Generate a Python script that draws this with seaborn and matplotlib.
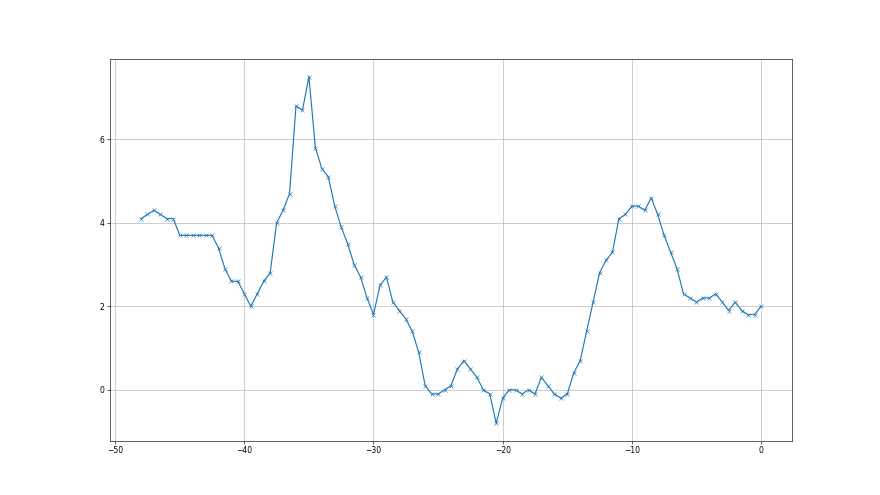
import matplotlib
matplotlib.use("Agg")
import matplotlib.pyplot as plt
import numpy as np
import pandas as pd
import seaborn as sns

# === data ===
x_vals = np.arange(-48, 0.5, 0.5)
y_vals = [
    4.1, 4.2, 4.3, 4.2, 4.1, 4.1, 3.7, 3.7, 3.7, 3.7, 3.7, 3.7,
    3.4, 2.9, 2.6, 2.6, 2.3, 2.0, 2.3, 2.6, 2.8, 4.0, 4.3, 4.7,
    6.8, 6.7, 7.5, 5.8, 5.3, 5.1, 4.4, 3.9, 3.5, 3.0, 2.7, 2.2,
    1.8, 2.5, 2.7, 2.1, 1.9, 1.7, 1.4, 0.9, 0.1, -0.1, -0.1, 0.0,
    0.1, 0.5, 0.7, 0.5, 0.3, 0.0, -0.1, -0.8, -0.2, 0.0, 0.0, -0.1,
    0.0, -0.1, 0.3, 0.1, -0.1, -0.2, -0.1, 0.4, 0.7, 1.4, 2.1, 2.8,
    3.1, 3.3, 4.1, 4.2, 4.4, 4.4, 4.3, 4.6, 4.2, 3.7, 3.3, 2.9,
    2.3, 2.2, 2.1, 2.2, 2.2, 2.3, 2.1, 1.9, 2.1, 1.9, 1.8, 1.8,
    2.0,
]

df = pd.DataFrame({"x": x_vals, "y": y_vals})

# === plot ===
sns.set_style("ticks")
fig, ax = plt.subplots(figsize=(16, 9), dpi=55)

sns.lineplot(data=df, x="x", y="y", marker="x", color="tab:blue",
             markeredgecolor="tab:blue", linewidth=1.5, ax=ax)

ax.grid(True, color="#b0b0b0", linewidth=0.8)
ax.set_xlabel("")
ax.set_ylabel("")
ax.set_yticks([0, 2, 4, 6])
ax.set_xticks([-50, -40, -30, -20, -10, 0])
for s in ax.spines.values():
    s.set_color("black")
    s.set_linewidth(0.8)
ax.tick_params(colors="black", labelsize=10)

fig.savefig("out.png", dpi=55)
plt.close(fig)
